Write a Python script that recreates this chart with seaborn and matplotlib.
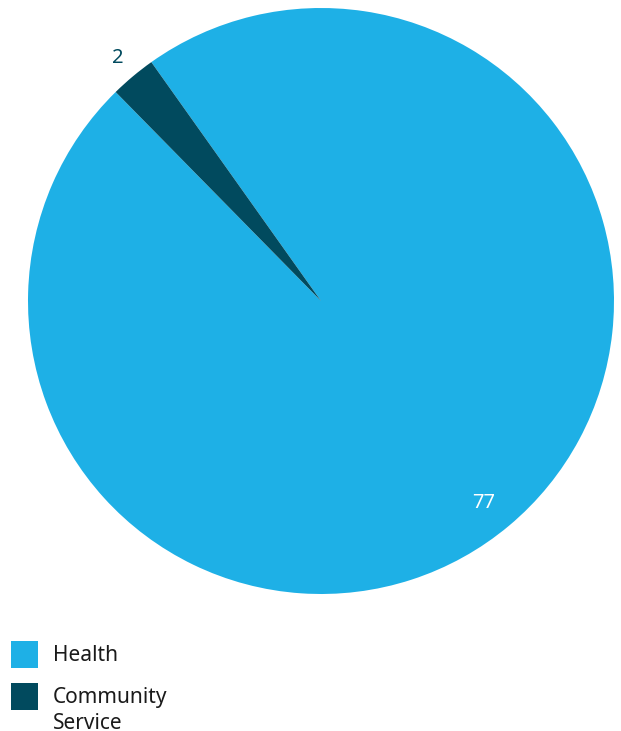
import numpy as np
import matplotlib
matplotlib.use("Agg")
import matplotlib.pyplot as plt
from matplotlib.patches import Rectangle
import seaborn as sns

categories = ["Health", "Community Service"]
legend_labels = ["Health", "Community\nService"]
values = [77, 2]
colors = ["#1eb0e6", "#014a5e"]

sns.set_theme(style="white")
plt.rcParams["font.family"] = ["Noto Sans", "DejaVu Sans"]
palette = sns.color_palette(colors)

W, H = 621, 731
fig = plt.figure(figsize=(W / 100, H / 100), dpi=100)
fig.patch.set_facecolor("white")

# pie occupies a square box centred at (321, 301) px with radius 293 px
cx, cy, r = 321, 301, 293
ax = fig.add_axes([(cx - r) / W, 1 - (cy + r) / H, 2 * r / W, 2 * r / H])
wedges, _ = ax.pie(values, colors=palette, startangle=134.5, counterclock=True,
                   radius=1, wedgeprops=dict(linewidth=0))
ax.set_xlim(-1, 1)
ax.set_ylim(-1, 1)
ax.set_aspect("equal")
ax.axis("off")

# value labels: large slice inside in white, small slice outside in dark teal
label_style = [(0.885, "white", -1.2), (1.08, colors[1], 0.0)]
for w, v, (dist, col, dang) in zip(wedges, values, label_style):
    mid = np.deg2rad((w.theta1 + w.theta2) / 2 + dang)
    ax.text(dist * np.cos(mid), dist * np.sin(mid), str(v), ha="center",
            va="center", fontsize=14.5, color=col, clip_on=False)

# legend with square swatches at the bottom left
sq = 27
rows_y = [641, 683]
for col, lab, y0 in zip(palette, legend_labels, rows_y):
    fig.add_artist(Rectangle((11 / W, 1 - (y0 + sq) / H), sq / W, sq / H,
                             transform=fig.transFigure, color=col, lw=0))
    fig.text(53 / W, 1 - (y0 + 4) / H, lab, ha="left", va="top",
             fontsize=15, color="#1a1a1a", linespacing=1.32)

fig.savefig("out.png", dpi=100, facecolor="white")
